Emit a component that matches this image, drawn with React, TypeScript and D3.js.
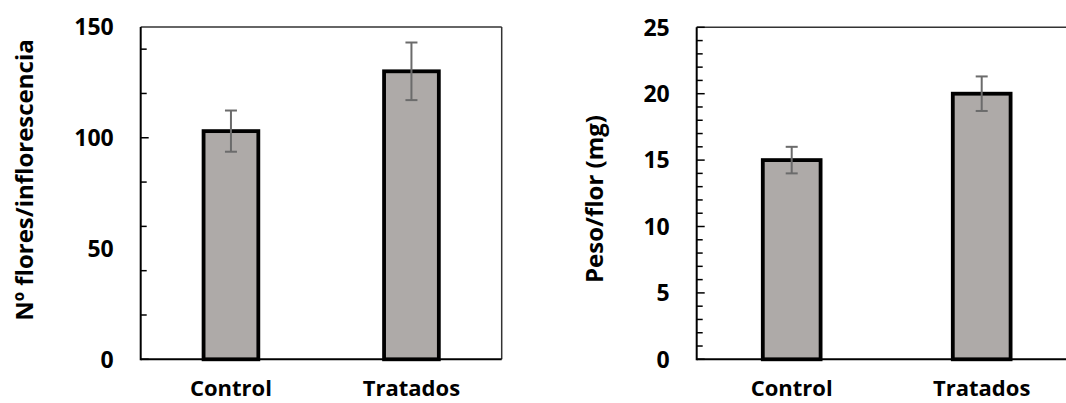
import React from "react";
import * as d3 from "d3";

const width = 1066;
const height = 403;

// data
const categories = ["Control", "Tratados"];
const flores = [103, 130];
const floresErr = [9.3, 13];
const peso = [15, 20];
const pesoErr = [1.0, 1.3];

const fontFamily = "'Open Sans', Lato, sans-serif";
const barFill = "#aeaaa8";
const errColor = "#6b6b6b";

type PanelProps = {
    left: number;
    right: number;
    top: number;
    bottom: number;
    max: number;
    minorCount: number;
    majorCount: number;
    values: number[];
    errors: number[];
    title: string;
    titleX: number;
    titleY: number;
    titleSize: number;
    showRight: boolean;
};

function Panel(p: PanelProps) {
    const x = d3.scaleBand<string>()
        .domain(categories)
        .range([p.left, p.right])
        .paddingInner(0.68)
        .paddingOuter(0.34);
    const y = d3.scaleLinear().domain([0, p.max]).range([p.bottom, p.top]);

    const minor = y.ticks(p.minorCount);
    const major = y.ticks(p.majorCount);
    const bw = x.bandwidth();

    return (
        <g>
            {/* frame */}
            <line x1={p.left} x2={p.right} y1={p.top} y2={p.top} stroke="#333" strokeWidth={1.5}/>
            {p.showRight && (
                <line x1={p.right} x2={p.right} y1={p.top} y2={p.bottom} stroke="#333" strokeWidth={1.5}/>
            )}

            {/* bars */}
            {categories.map((c, i) => (
                <rect key={c}
                      x={(x(c) as number) + 1.5}
                      y={y(p.values[i])}
                      width={bw - 3}
                      height={y(0) - y(p.values[i])}
                      fill={barFill} stroke="#000" strokeWidth={3.8}/>
            ))}

            {/* error bars */}
            {categories.map((c, i) => {
                const cx = (x(c) as number) + bw / 2;
                const y1 = y(p.values[i] + p.errors[i]);
                const y2 = y(p.values[i] - p.errors[i]);
                return (
                    <g key={c} stroke={errColor} strokeWidth={2}>
                        <line x1={cx} x2={cx} y1={y1} y2={y2}/>
                        <line x1={cx - 6} x2={cx + 6} y1={y1} y2={y1}/>
                        <line x1={cx - 6} x2={cx + 6} y1={y2} y2={y2}/>
                    </g>
                );
            })}

            {/* axes */}
            <line x1={p.left} x2={p.right} y1={p.bottom} y2={p.bottom} stroke="#000" strokeWidth={2}/>
            <line x1={p.left} x2={p.left} y1={p.top} y2={p.bottom + 1} stroke="#000" strokeWidth={2}/>
            {minor.map(t => (
                <line key={"m" + t} x1={p.left} x2={p.left + (major.includes(t) ? 8 : 6)}
                      y1={y(t)} y2={y(t)} stroke="#000" strokeWidth={1.5}/>
            ))}
            {major.map(t => (
                <text key={"l" + t} x={p.left - 27} y={y(t)} dy="0.36em" textAnchor="end"
                      fontFamily={fontFamily} fontWeight={700} fontSize={23} fill="#000">{t}</text>
            ))}
            {categories.map(c => (
                <text key={"x" + c} x={(x(c) as number) + bw / 2} y={396} textAnchor="middle"
                      fontFamily={fontFamily} fontWeight={700} fontSize={22} fill="#000">{c}</text>
            ))}

            <text transform={`translate(${p.titleX},${p.titleY}) rotate(-90)`} textAnchor="middle"
                  fontFamily={fontFamily} fontWeight={700} fontSize={p.titleSize} fill="#000">{p.title}</text>
        </g>
    );
}

export default function App() {
    return (
        <svg width={width} height={height} style={{position: "absolute", left: 0, top: 0, background: "#fff"}}>
            <Panel left={140.7} right={501.7} top={27} bottom={359.3} max={150}
                   minorCount={6} majorCount={3} values={flores} errors={floresErr}
                   title="Nº flores/inflorescencia" titleX={33} titleY={180} titleSize={24}
                   showRight={true}/>
            <Panel left={696.7} right={1076.7} top={27.3} bottom={359.3} max={25}
                   minorCount={25} majorCount={5} values={peso} errors={pesoErr}
                   title="Peso/flor (mg)" titleX={603} titleY={199} titleSize={24}
                   showRight={false}/>
        </svg>
    );
}
